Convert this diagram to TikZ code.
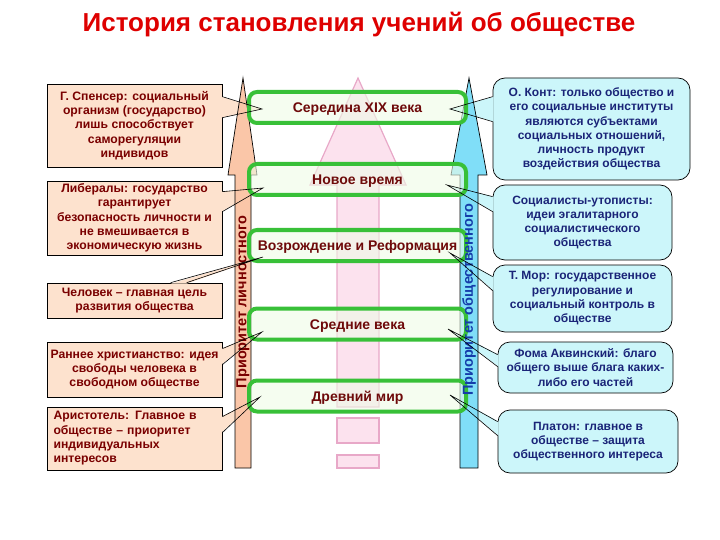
\documentclass[tikz,border=0pt]{standalone}
\usepackage{fontspec}
\setmainfont{Liberation Sans}
\definecolor{ttl}{RGB}{222,0,0}
\definecolor{lfill}{RGB}{253,226,206}
\definecolor{ltext}{RGB}{122,0,0}
\definecolor{larrow}{RGB}{250,198,168}
\definecolor{rfill}{RGB}{204,246,250}
\definecolor{rtext}{RGB}{26,36,120}
\definecolor{rarrow}{RGB}{128,222,248}
\definecolor{rlabel}{RGB}{20,60,170}
\definecolor{bandgreen}{RGB}{56,192,56}
\definecolor{bandfill}{RGB}{238,252,230}
\definecolor{pinkfill}{RGB}{252,226,238}
\definecolor{pinkline}{RGB}{232,168,200}
\definecolor{bandtext}{RGB}{110,10,10}
\begin{document}
\begin{tikzpicture}[x=1pt,y=-1pt,
  lbox/.style={draw=black,line width=0.7pt,fill=lfill,text=ltext,
    font=\bfseries\fontsize{12.2}{14.3}\selectfont,align=center,inner sep=0pt},
  rbox/.style={draw=black,line width=0.7pt,fill=rfill,rounded corners=12pt,text=rtext,
    font=\bfseries\fontsize{12}{14.3}\selectfont,align=center,inner sep=0pt},
  band/.style={draw=bandgreen,line width=4pt,fill=bandfill,fill opacity=0.6,text opacity=1,
    rounded corners=8pt,minimum width=217pt,minimum height=31pt,text=bandtext,
    font=\bfseries\fontsize{14}{16}\selectfont,inner sep=0pt,text height=10pt,text depth=0pt},
  arr/.style={draw=black,line width=0.7pt},
  ptr/.style={draw=black,line width=0.6pt},
  pinkarr/.style={draw=pinkline,fill=pinkfill,line width=1.2pt},
  alabel/.style={rotate=90,font=\bfseries\fontsize{14.5}{16}\selectfont,inner sep=0pt}
]
\useasboundingbox (0,0) rectangle (720,540);

% title
\node[text=ttl,font=\bfseries\fontsize{26}{30}\selectfont] (title) at (359,25)
  {История становления учений об обществе};

% left boxes
\node[lbox,minimum width=175pt,minimum height=83pt] (spencer) at (134.5,125.5)
  {Г. Спенсер: социальный\\организм (государство)\\лишь способствует\\саморегуляции\\индивидов};
\node[lbox,minimum width=175pt,minimum height=74pt] (lib) at (134.5,218)
  {Либералы: государство\\гарантирует\\безопасность личности и\\не вмешивается в\\экономическую жизнь};
\node[lbox,minimum width=175pt,minimum height=35pt] (chel) at (134.5,300.5)
  {Человек – главная цель\\развития общества};
\node[lbox,minimum width=175pt,minimum height=55pt] (ran) at (134.5,369.5)
  {Раннее христианство: идея\\свободы человека в\\свободном обществе};
\node[lbox,minimum width=175pt,minimum height=63pt,text width=162pt,align=left] (ari) at (134.5,438.5)
  {Аристотель: Главное в\\обществе – приоритет\\индивидуальных\\интересов};

% right boxes
\node[rbox,minimum width=197pt,minimum height=102pt] (kont) at (591.5,129)
  {О. Конт: только общество и\\его социальные институты\\являются субъектами\\социальных отношений,\\личность продукт\\воздействия общества};
\node[rbox,minimum width=179pt,minimum height=75pt] (soc) at (582.5,222.5)
  {Социалисты-утописты:\\идеи эгалитарного\\социалистического\\общества};
\node[rbox,minimum width=179pt,minimum height=67pt] (mor) at (582.5,298.5)
  {Т. Мор: государственное\\регулирование и\\социальный контроль в\\обществе};
\node[rbox,minimum width=175pt,minimum height=51pt] (foma) at (585.5,367.5)
  {Фома Аквинский: благо\\общего выше блага каких-\\либо его частей};
\node[rbox,minimum width=180pt,minimum height=63pt] (plat) at (588,441.5)
  {Платон: главное в\\обществе – защита\\общественного интереса};

% pointer tips
\coordinate (t1) at (262,109);
\coordinate (t2) at (263,188);
\coordinate (t3) at (263,257);
\coordinate (t4) at (262,332);
\coordinate (t5) at (260,397);
\coordinate (u1) at (450,109);
\coordinate (u2) at (447,185);
\coordinate (u3) at (450,253);
\coordinate (u4) at (448,329);
\coordinate (u5) at (450,395);

% pointer fills
\foreach \n/\a/\b/\t in {spencer/13/34/t1,lib/11/31/t2,ran/7/23/t4,ari/10/26/t5}{
  \fill[lfill] ([shift={(-1pt,-\a pt)}]\n.north east) -- (\t) -- ([shift={(-1pt,-\b pt)}]\n.north east) -- cycle;
}
\fill[lfill] ([shift={(124pt,-1pt)}]chel.north west) -- (t3) -- ([shift={(140pt,-1pt)}]chel.north west) -- cycle;
\foreach \n/\a/\b/\t in {kont/19/44/u1,soc/12/27/u2,mor/12/26/u3,foma/13/25/u4,plat/12/26/u5}{
  \fill[rfill] ([shift={(1pt,-\a pt)}]\n.north west) -- (\t) -- ([shift={(1pt,-\b pt)}]\n.north west) -- cycle;
}

% central pink arrow
\path[pinkarr] (337,407) -- (337,185) -- (310,185) -- (358,78) -- (406,185) -- (379,185) -- (379,407) -- cycle;
\path[pinkarr] (337,418) rectangle (379,443);
\path[pinkarr] (337,455) rectangle (379,468);

% side arrows
\path[arr,fill=larrow] (235,468) -- (235,175) -- (228,175) -- (243,78) -- (257,175) -- (251,175) -- (251,468) -- cycle;
\path[arr,fill=rarrow] (460,468) -- (460,175) -- (451,175) -- (469,78) -- (487,175) -- (478,175) -- (478,468) -- cycle;

% bands
\node[band] (b1) at (357.5,107.5) {Середина XIX века};
\node[band] (b2) at (357.5,179.5) {Новое время};
\node[band] (b3) at (357.5,245.5) {Возрождение и Реформация};
\node[band] (b4) at (357.5,324) {Средние века};
\node[band] (b5) at (357.5,396) {Древний мир};

% arrow labels
\node[alabel,text=ltext] (llab) at (243,302) {Приоритет личностного};
\node[alabel,text=rlabel] (rlab) at (469,300) {Приоритет общественного};

% pointer lines
\foreach \n/\a/\b/\t in {spencer/13/34/t1,lib/11/31/t2,ran/7/23/t4,ari/10/26/t5}{
  \draw[ptr] ([yshift=-\a pt]\n.north east) -- (\t) -- ([yshift=-\b pt]\n.north east);
}
\draw[ptr] ([xshift=124pt]chel.north west) -- (t3) -- ([xshift=140pt]chel.north west);
\foreach \n/\a/\b/\t in {kont/19/44/u1,soc/12/27/u2,mor/12/26/u3,foma/13/25/u4,plat/12/26/u5}{
  \draw[ptr] ([yshift=-\a pt]\n.north west) -- (\t) -- ([yshift=-\b pt]\n.north west);
}
\end{tikzpicture}
\end{document}
